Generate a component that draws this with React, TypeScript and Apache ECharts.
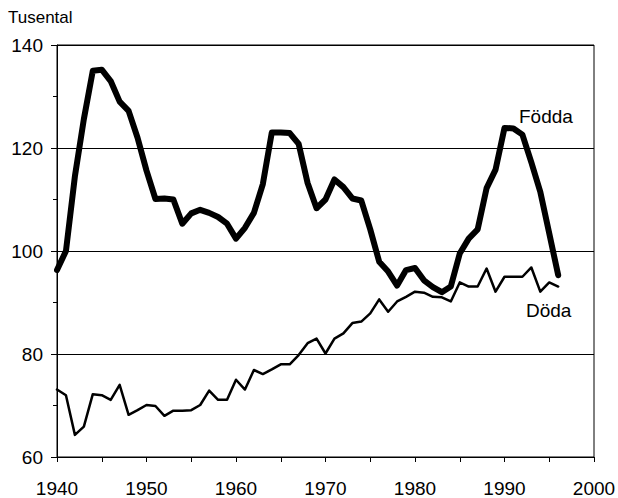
import React, { useEffect, useRef } from "react";
import * as echarts from "echarts";

const years: number[] = [];
for (let y = 1940; y <= 1996; y++) years.push(y);

const fodda = [
  96.3, 100.0, 114.5, 125.6, 135.0, 135.2, 133.0, 129.0, 127.2, 122.0,
  115.6, 110.1, 110.2, 110.0, 105.3, 107.3, 108.0, 107.4, 106.6, 105.3,
  102.4, 104.5, 107.4, 113.0, 123.0, 123.0, 122.9, 120.8, 113.2, 108.3,
  110.0, 113.9, 112.4, 110.2, 109.8, 104.2, 97.9, 96.0, 93.3, 96.3,
  96.7, 94.3, 93.0, 92.0, 93.1, 99.5, 102.4, 104.2, 112.2, 115.8,
  123.9, 123.8, 122.6, 117.2, 111.5, 103.4, 95.3,
];

const doda = [
  73.1, 72.0, 64.3, 65.9, 72.2, 72.0, 71.1, 74.0, 68.2, 69.1,
  70.1, 69.9, 68.0, 69.0, 69.0, 69.1, 70.1, 72.9, 71.1, 71.1,
  75.0, 73.1, 76.9, 76.1, 77.0, 78.0, 78.0, 79.8, 82.1, 83.0,
  80.1, 83.0, 84.0, 86.0, 86.3, 87.9, 90.6, 88.2, 90.2, 91.1,
  92.1, 91.9, 91.1, 91.0, 90.2, 93.9, 93.1, 93.1, 96.6, 92.1,
  95.0, 95.0, 95.0, 96.8, 92.1, 93.9, 93.1,
];

const xTickLabels = ["1940", "1950", "1960", "1970", "1980", "1990", "2000"];
const yTickLabels = ["60", "80", "100", "120", "140"];

const FONT = "'Liberation Sans', Arial, Helvetica, sans-serif";

export default function App() {
  const ref = useRef<HTMLDivElement>(null);
  useEffect(() => {
    if (!ref.current) return;
    const chart = echarts.init(ref.current, null, { renderer: "svg" });
    chart.setOption({
      animation: false,
      backgroundColor: "#ffffff",
      grid: {
        left: 57,
        right: 24,
        top: 45,
        bottom: 41,
        show: true,
        borderColor: "#000",
        borderWidth: 1,
        containLabel: false,
        outerBoundsMode: "none",
      },
      graphic: [
        {
          type: "text",
          left: 8,
          top: 9,
          style: { text: "Tusental", font: `17px ${FONT}`, fill: "#000" },
        },
        {
          type: "text",
          left: 519,
          top: 107,
          style: { text: "Födda", font: `19px ${FONT}`, fill: "#000" },
        },
        {
          type: "text",
          left: 526,
          top: 301,
          style: { text: "Döda", font: `19px ${FONT}`, fill: "#000" },
        },
      ],
      xAxis: {
        type: "value",
        min: 1940,
        max: 2000,
        interval: 10,
        axisLine: { show: true, lineStyle: { color: "#000", width: 1 } },
        axisTick: { show: true, inside: false, length: 5, lineStyle: { color: "#000" } },
        minorTick: { show: true, splitNumber: 2, length: 5, lineStyle: { color: "#000" } },
        splitLine: { show: false },
        axisLabel: {
          color: "#000",
          fontFamily: FONT,
          fontSize: 19,
          margin: 22,
          formatter: (v: number) =>
            xTickLabels.includes(String(v)) ? String(v) : "",
        },
      },
      yAxis: {
        type: "value",
        min: 60,
        max: 140,
        interval: 20,
        axisLine: { show: true, lineStyle: { color: "#000", width: 1 } },
        axisTick: { show: true, inside: false, length: 6, lineStyle: { color: "#000" } },
        minorTick: { show: true, splitNumber: 2, length: 4, lineStyle: { color: "#000" } },
        splitLine: { show: true, lineStyle: { color: "#000", width: 1 } },
        axisLabel: {
          color: "#000",
          fontFamily: FONT,
          fontSize: 19,
          margin: 14,
          formatter: (v: number) =>
            yTickLabels.includes(String(v)) ? String(v) : "",
        },
      },
      series: [
        {
          name: "Döda",
          type: "line",
          data: years.map((y, i) => [y, doda[i]]),
          showSymbol: false,
          lineStyle: { color: "#000", width: 2.5, join: "round", cap: "round" },
        },
        {
          name: "Födda",
          type: "line",
          data: years.map((y, i) => [y, fodda[i]]),
          showSymbol: false,
          lineStyle: { color: "#000", width: 6, join: "round", cap: "round" },
        },
      ],
    });
    return () => chart.dispose();
  }, []);
  return (
    <div
      ref={ref}
      style={{ position: "fixed", left: 0, top: 0, width: 618, height: 498, background: "#fff" }}
    />
  );
}
